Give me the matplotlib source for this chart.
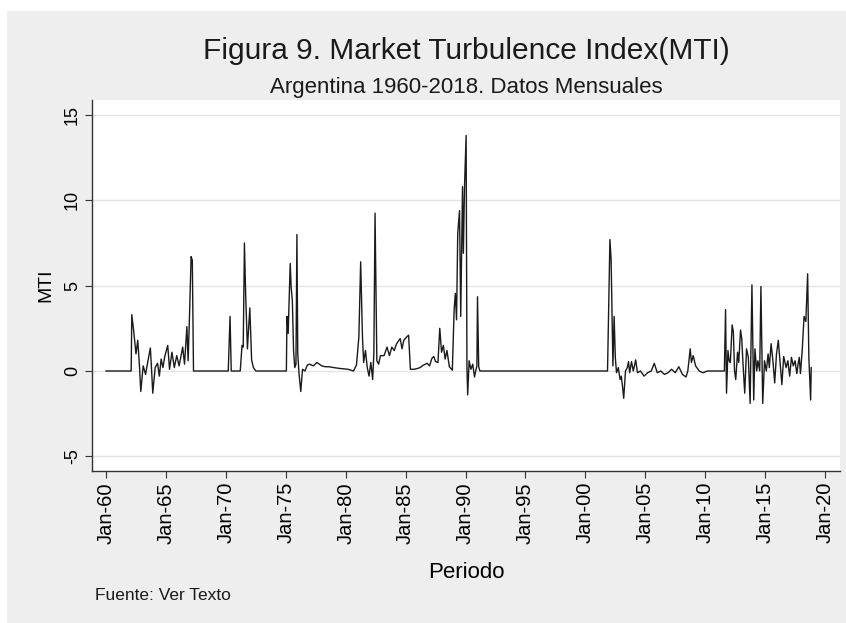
import matplotlib.pyplot as plt
from matplotlib.patches import Rectangle

# Monthly MTI (decimal year, value)
periodo = [
    1960.0, 1961.0, 1962.1, 1962.15, 1962.3, 1962.5, 1962.65, 1962.8, 1962.9, 1963.1,
    1963.3, 1963.5, 1963.7, 1963.8, 1963.9, 1964.1, 1964.3, 1964.45, 1964.6, 1964.75,
    1964.9, 1965.15, 1965.3, 1965.5, 1965.7, 1965.9, 1966.1, 1966.4, 1966.55, 1966.75,
    1966.85, 1966.95, 1967.1, 1967.2, 1967.3, 1970.2, 1970.35, 1970.45, 1971.2, 1971.35,
    1971.45, 1971.55, 1971.65, 1971.8, 1972.0, 1972.15, 1972.3, 1972.5, 1975.05, 1975.1,
    1975.2, 1975.37, 1975.45, 1975.55, 1975.65, 1975.75, 1975.85, 1975.93, 1976.0, 1976.1,
    1976.25, 1976.4, 1976.6, 1976.8, 1977.0, 1977.3, 1977.6, 1978.0, 1978.3, 1978.6,
    1979.0, 1979.5, 1980.2, 1980.65, 1980.9, 1981.1, 1981.25, 1981.4, 1981.5, 1981.65,
    1981.8, 1981.95, 1982.1, 1982.25, 1982.35, 1982.45, 1982.55, 1982.6, 1982.75, 1982.9,
    1983.2, 1983.45, 1983.65, 1983.85, 1984.05, 1984.25, 1984.55, 1984.7, 1984.85, 1985.1,
    1985.25, 1985.4, 1985.7, 1986.0, 1986.2, 1986.5, 1986.8, 1987.0, 1987.2, 1987.35,
    1987.5, 1987.7, 1987.85, 1988.0, 1988.15, 1988.3, 1988.45, 1988.65, 1988.9, 1989.05,
    1989.15, 1989.25, 1989.35, 1989.5, 1989.6, 1989.75, 1989.82, 1989.92, 1990.05, 1990.12,
    1990.18, 1990.3, 1990.45, 1990.6, 1990.75, 1990.85, 1990.95, 1991.0, 1991.1, 1991.2,
    2001.85, 2002.05, 2002.15, 2002.3, 2002.4, 2002.5, 2002.6, 2002.75, 2002.9, 2003.0,
    2003.1, 2003.2, 2003.35, 2003.5, 2003.6, 2003.7, 2003.85, 2004.0, 2004.2, 2004.35,
    2004.6, 2004.9, 2005.2, 2005.5, 2005.75, 2006.0, 2006.3, 2006.6, 2006.9, 2007.2,
    2007.5, 2007.8, 2008.1, 2008.4, 2008.55, 2008.75, 2008.85, 2009.0, 2009.2, 2009.5,
    2009.8, 2010.2, 2010.7, 2011.1, 2011.6, 2011.7, 2011.78, 2011.9, 2012.0, 2012.1,
    2012.25, 2012.35, 2012.45, 2012.55, 2012.7, 2012.8, 2012.95, 2013.05, 2013.15, 2013.3,
    2013.45, 2013.6, 2013.75, 2013.9, 2014.05, 2014.15, 2014.3, 2014.4, 2014.55, 2014.65,
    2014.8, 2014.95, 2015.1, 2015.25, 2015.35, 2015.5, 2015.65, 2015.8, 2015.95, 2016.1,
    2016.25, 2016.4, 2016.55, 2016.75, 2016.9, 2017.05, 2017.2, 2017.35, 2017.5, 2017.65,
    2017.75, 2017.85, 2017.95, 2018.1, 2018.25, 2018.4, 2018.55, 2018.65, 2018.8, 2018.85,
]
mti = [
    0.0, 0.0, 0.0, 3.3, 2.4, 1.0, 1.8, 0.2, -1.2, 0.3,
    -0.2, 0.6, 1.35, 0.1, -1.3, 0.2, 0.45, -0.3, 0.7, 0.2,
    0.85, 1.5, 0.1, 1.1, 0.2, 0.9, 0.3, 1.4, 0.4, 2.6,
    0.6, 2.8, 6.7, 6.5, 0.0, 0.0, 3.2, 0.0, 0.0, 1.5,
    1.4, 7.5, 4.55, 1.3, 3.7, 0.65, 0.2, 0.0, 0.0, 3.2,
    2.2, 6.3, 4.9, 4.1, 1.2, 0.2, 0.4, 8.0, 1.05, -0.1,
    -1.2, 0.1, 0.0, 0.35, 0.4, 0.3, 0.5, 0.3, 0.25, 0.25,
    0.2, 0.15, 0.1, 0.0, 0.35, 2.0, 6.4, 2.0, 0.5, 1.2,
    0.2, -0.3, 0.5, -0.5, 1.0, 9.25, 3.8, 0.6, 0.4, 0.9,
    0.9, 1.4, 0.9, 1.4, 1.2, 1.6, 1.9, 1.3, 1.8, 2.0,
    2.1, 0.1, 0.1, 0.15, 0.2, 0.35, 0.45, 0.3, 0.75, 0.85,
    0.55, 0.5, 2.5, 1.1, 1.5, 0.7, 1.2, 0.25, 0.05, 3.6,
    4.55, 3.0, 8.05, 9.4, 3.2, 10.8, 6.9, 10.9, 13.8, 0.2,
    -1.4, 0.6, 0.1, 0.4, -0.35, 0.0, 0.3, 4.35, 0.25, 0.0,
    0.0, 7.7, 6.5, 0.3, 3.2, 0.8, -0.1, 0.2, -0.5, -0.3,
    -0.9, -1.6, 0.0, 0.2, 0.55, -0.1, 0.55, 0.0, 0.65, -0.1,
    0.0, -0.3, -0.1, 0.0, 0.45, -0.1, 0.0, -0.2, -0.1, 0.1,
    -0.1, 0.25, -0.2, -0.35, 0.0, 1.3, 0.5, 0.9, 0.3, 0.0,
    -0.1, 0.0, 0.0, 0.0, 0.0, 3.6, -1.3, 1.2, 0.6, 0.5,
    2.7, 2.3, 0.0, -0.5, 1.1, 0.5, 2.4, 1.9, 0.5, -1.3,
    1.3, 0.8, -1.9, 5.05, -1.7, 1.3, 0.0, 0.6, 0.0, 4.95,
    -1.9, 0.6, 0.0, 1.0, 0.2, 1.6, 0.6, -0.7, 1.0, 1.8,
    0.5, -0.8, 0.85, 0.2, 0.6, -0.3, 0.8, 0.3, 0.6, -0.15,
    0.4, 0.8, -0.15, 1.25, 3.2, 2.9, 5.7, 0.8, -1.7, 0.2,
]

year_ticks = list(range(1960, 2021, 5))
year_labels = ["Jan-60", "Jan-65", "Jan-70", "Jan-75", "Jan-80", "Jan-85", "Jan-90",
               "Jan-95", "Jan-00", "Jan-05", "Jan-10", "Jan-15", "Jan-20"]
mti_ticks = [-5, 0, 5, 10, 15]

plt.rcParams['font.family'] = ['Liberation Sans', 'DejaVu Sans']

fig = plt.figure(figsize=(8.46, 6.23), dpi=100)
fig.patch.set_facecolor('white')
# gray graph region (white margin on top and left, as in the source image)
fig.patches.append(Rectangle((7 / 846, 0), 1, (623 - 11) / 623, transform=fig.transFigure,
                             facecolor='#eeeeee', edgecolor='none', zorder=-10))

ax = fig.add_axes([92 / 846, (623 - 471) / 623, (840 - 92) / 846, (471 - 100) / 623])
ax.set_facecolor('white')
ax.plot(periodo, mti, color='#1a1a1a', linewidth=1.0)

ax.set_xlim(1958.83, 2021.25)
ax.set_ylim(-5.86, 15.88)
ax.set_xticks(year_ticks)
ax.set_xticklabels(year_labels, rotation=90, fontsize=14.5)
ax.set_yticks(mti_ticks)
ax.set_yticklabels([str(t) for t in mti_ticks], rotation=90, va='center', fontsize=13)
ax.tick_params(axis='both', direction='out', length=5, width=0.8, color='#333333', pad=3)

ax.grid(axis='y', color='#e4e4e4', linewidth=1.0)
ax.set_axisbelow(True)
for side in ['top', 'right']:
    ax.spines[side].set_visible(False)
for side in ['left', 'bottom']:
    ax.spines[side].set_color('#333333')
    ax.spines[side].set_linewidth(1.0)

ax.set_ylabel("MTI", fontsize=14, labelpad=7)
ax.set_xlabel("Periodo", fontsize=16, labelpad=13)

fig.text(466 / 846, 1 - 51 / 623, "Figura 9. Market Turbulence Index(MTI)",
         ha='center', va='center', fontsize=21.5, color='#1a1a1a')
fig.text(466 / 846, 1 - 88 / 623, "Argentina 1960-2018. Datos Mensuales",
         ha='center', va='center', fontsize=16, color='#1a1a1a')
fig.text(95 / 846, 1 - 596 / 623, "Fuente: Ver Texto", ha='left', va='center',
         fontsize=12.5, color='#1a1a1a')

fig.savefig("out.png", dpi=100, facecolor=fig.get_facecolor())
